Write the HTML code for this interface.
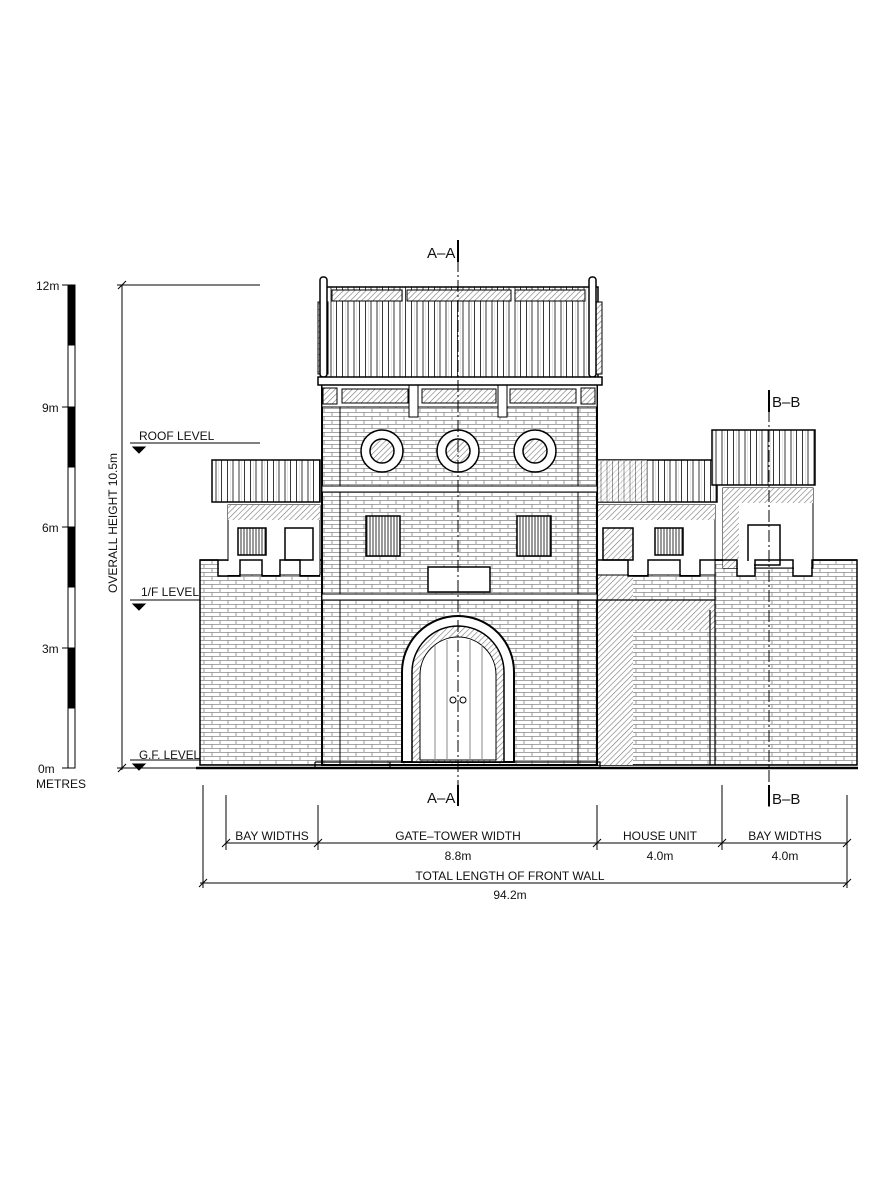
<!DOCTYPE html>
<html><head><style>body{margin:0;background:#fff}svg{display:block}text{font-family:"Liberation Sans",sans-serif;fill:#111}</style></head><body>
<svg width="896" height="1200" viewBox="0 0 896 1200" xmlns="http://www.w3.org/2000/svg">
<defs>
<pattern id="brick" width="16" height="8" patternUnits="userSpaceOnUse">
<rect width="16" height="8" fill="#fff"/>
<path d="M0 0.5H16M0 4.5H16M4 0V4M12 4V8" stroke="#888" stroke-width="0.8"/>
</pattern>
<pattern id="hatch" width="4" height="4" patternUnits="userSpaceOnUse" patternTransform="rotate(45)">
<rect width="4" height="4" fill="#fff"/><line x1="0" y1="0" x2="0" y2="4" stroke="#777" stroke-width="1.2"/>
</pattern>
<pattern id="tiles" width="11.5" height="400" patternUnits="userSpaceOnUse">
<rect width="11.5" height="400" fill="#fff"/>
<path d="M3 0V400M9 0V400" stroke="#222" stroke-width="0.9"/>
<path d="M0 0V400" stroke="#aaa" stroke-width="0.6"/>
</pattern>
<pattern id="vbars" width="3" height="10" patternUnits="userSpaceOnUse"><rect width="3" height="10" fill="#fff"/><line x1="1" y1="0" x2="1" y2="10" stroke="#333"/></pattern>
</defs>

<!-- scale bar -->
<g stroke="#000" stroke-width="1">
<rect x="68" y="285" width="7" height="483" fill="#fff"/>
<rect x="68" y="285" width="7" height="60" fill="#000"/>
<rect x="68" y="407" width="7" height="60" fill="#000"/>
<rect x="68" y="527" width="7" height="60" fill="#000"/>
<rect x="68" y="648" width="7" height="60" fill="#000"/>
<path d="M62 285H75M62 407H75M62 527H75M62 648H75M62 768H75"/>
</g>
<g font-size="12">
<text x="36" y="290">12m</text><text x="42" y="412">9m</text><text x="42" y="532">6m</text><text x="42" y="653">3m</text><text x="38" y="773">0m</text><text x="36" y="788">METRES</text>
</g>

<!-- walls -->
<rect x="200" y="560" width="122" height="205" fill="url(#brick)" stroke="#000" stroke-width="1.5"/>
<rect x="597" y="560" width="260" height="205" fill="url(#brick)" stroke="#000" stroke-width="1.5"/>
<rect x="597" y="560" width="36" height="205" fill="url(#hatch)"/>
<rect x="597" y="600" width="118" height="30" fill="url(#hatch)"/>
<path d="M715 560V765M597 600H715M710 610V765" stroke="#000" stroke-width="1.2"/>

<!-- left wing -->
<rect x="212" y="460" width="108" height="42" fill="url(#tiles)" stroke="#000" stroke-width="1.5"/>
<rect x="228" y="505" width="92" height="70" fill="#fff" stroke="#000"/>
<rect x="228" y="505" width="92" height="15" fill="url(#hatch)"/>
<rect x="238" y="528" width="28" height="27" fill="url(#vbars)" stroke="#000" stroke-width="1.5"/>
<rect x="285" y="528" width="28" height="32" fill="#fff" stroke="#000" stroke-width="1.5"/>
<path d="M200 560H218V576H240V560H262V576H280V560H300V576H320" fill="none" stroke="#000" stroke-width="1.5"/>
<rect x="219" y="561" width="20" height="14" fill="#fff"/><rect x="263" y="561" width="16" height="14" fill="#fff"/><rect x="301" y="561" width="18" height="14" fill="#fff"/>

<!-- right wing -->
<rect x="597" y="460" width="120" height="42" fill="url(#tiles)" stroke="#000" stroke-width="1.5"/>
<rect x="597" y="460" width="50" height="42" fill="url(#hatch)" opacity="0.5"/>
<rect x="597" y="505" width="118" height="70" fill="#fff" stroke="#000"/>
<rect x="597" y="505" width="118" height="15" fill="url(#hatch)"/>
<rect x="603" y="528" width="30" height="32" fill="url(#hatch)" stroke="#000" stroke-width="1.5"/>
<rect x="655" y="528" width="28" height="27" fill="url(#vbars)" stroke="#000" stroke-width="1.5"/>
<!-- far right tower -->
<rect x="712" y="430" width="103" height="55" fill="url(#tiles)" stroke="#000" stroke-width="1.5"/>
<rect x="723" y="488" width="90" height="80" fill="#fff" stroke="#000"/>
<rect x="723" y="488" width="90" height="15" fill="url(#hatch)"/>
<rect x="723" y="488" width="16" height="80" fill="url(#hatch)"/>
<rect x="748" y="525" width="32" height="40" fill="#fff" stroke="#000" stroke-width="1.5"/>
<path d="M597 560H628V576H648V560H680V576H700V560H737V576H755V560H793V576H812V560H857" fill="none" stroke="#000" stroke-width="1.5"/>
<rect x="629" y="561" width="18" height="14" fill="#fff"/><rect x="681" y="561" width="18" height="14" fill="#fff"/><rect x="738" y="561" width="16" height="14" fill="#fff"/><rect x="794" y="561" width="17" height="14" fill="#fff"/>

<!-- gate tower body -->
<rect x="322" y="385" width="275" height="380" fill="url(#brick)" stroke="#000" stroke-width="2"/>
<path d="M340 385V765M578 385V765" stroke="#000"/>
<rect x="322" y="385" width="275" height="22" fill="#fff" stroke="#000"/>
<rect x="342" y="389" width="66" height="14" fill="url(#hatch)" stroke="#000"/>
<rect x="422" y="389" width="74" height="14" fill="url(#hatch)" stroke="#000"/>
<rect x="510" y="389" width="66" height="14" fill="url(#hatch)" stroke="#000"/>
<rect x="409" y="385" width="9" height="32" fill="#fff" stroke="#000"/>
<rect x="498" y="385" width="9" height="32" fill="#fff" stroke="#000"/>
<rect x="323" y="388" width="14" height="16" fill="url(#hatch)" stroke="#000"/>
<rect x="581" y="388" width="14" height="16" fill="url(#hatch)" stroke="#000"/>
<g stroke="#000" stroke-width="1.5">
<circle cx="382" cy="451" r="21" fill="#fff"/><circle cx="382" cy="451" r="12" fill="url(#hatch)"/>
<circle cx="458" cy="451" r="21" fill="#fff"/><circle cx="458" cy="451" r="12" fill="url(#hatch)"/>
<circle cx="535" cy="451" r="21" fill="#fff"/><circle cx="535" cy="451" r="12" fill="url(#hatch)"/>
</g>
<rect x="322" y="486" width="275" height="6" fill="#fff" stroke="#000"/>
<rect x="322" y="594" width="275" height="6" fill="#fff" stroke="#000"/>
<rect x="366" y="516" width="34" height="40" fill="url(#vbars)" stroke="#000" stroke-width="1.5"/>
<rect x="517" y="516" width="34" height="40" fill="url(#vbars)" stroke="#000" stroke-width="1.5"/>
<rect x="428" y="567" width="62" height="25" fill="#fff" stroke="#000" stroke-width="1.5"/>
<!-- arch -->
<path d="M402 762V672A56 56 0 0 1 514 672V762Z" fill="#fff" stroke="#000" stroke-width="2"/>
<path d="M412 762V672A46 46 0 0 1 504 672V762Z" fill="url(#hatch)" stroke="#000" stroke-width="1.5"/>
<path d="M420 760V675A38 38 0 0 1 496 675V760Z" fill="#fff" stroke="#000"/>
<path d="M435 645V760M447 640V760M470 640V760M482 645V760" stroke="#888"/>
<circle cx="453" cy="700" r="3" fill="none" stroke="#000"/><circle cx="463" cy="700" r="3" fill="none" stroke="#000"/>
<!-- roof -->
<rect x="322" y="287" width="276" height="91" fill="url(#tiles)" stroke="#000" stroke-width="1.5"/>
<rect x="332" y="290" width="70" height="11" fill="url(#hatch)" stroke="#000"/>
<rect x="407" y="290" width="104" height="11" fill="url(#hatch)" stroke="#000"/>
<rect x="515" y="290" width="70" height="11" fill="url(#hatch)" stroke="#000"/>
<rect x="318" y="302" width="10" height="72" fill="url(#hatch)" stroke="#000"/>
<rect x="592" y="302" width="10" height="72" fill="url(#hatch)" stroke="#000"/>
<rect x="320" y="277" width="7" height="100" rx="3" fill="#fff" stroke="#000" stroke-width="1.5"/>
<rect x="589" y="277" width="7" height="100" rx="3" fill="#fff" stroke="#000" stroke-width="1.5"/>
<rect x="318" y="377" width="284" height="8" fill="#fff" stroke="#000" stroke-width="1.5"/>

<!-- ground -->
<path d="M196 768H858" stroke="#000" stroke-width="2.5"/>
<path d="M315 762H600V768M315 762V768M390 762V768" stroke="#000" fill="none" stroke-width="1.2"/>

<!-- overall height & levels (drawn on top) -->
<g stroke="#000" stroke-width="1">
<path d="M122 285V770M117 285H260M117 768H200M118 289L126 281M118 772L126 764"/>
<path d="M130 443H260M130 600H200M130 760H200"/>
<path d="M133 447l6 6 6-6zM133 604l6 6 6-6zM133 764l6 6 6-6z" fill="#000"/>
</g>
<text transform="translate(117,593) rotate(-90)" font-size="12">OVERALL HEIGHT 10.5m</text>
<text x="139" y="440" font-size="12">ROOF LEVEL</text>
<text x="141" y="596" font-size="12" textLength="58" lengthAdjust="spacingAndGlyphs">1/F LEVEL</text>
<text x="139" y="759" font-size="12" textLength="61" lengthAdjust="spacingAndGlyphs">G.F. LEVEL</text>

<!-- section lines -->
<path d="M458 240V800" stroke="#000" stroke-dasharray="12 3 2 3"/>
<path d="M769 390V810" stroke="#000" stroke-dasharray="12 3 2 3"/>
<path d="M458 240V262M458 785V806M769 390V412M769 785V806" stroke="#000" stroke-width="2"/>
<text x="427" y="258" font-size="15">A–A</text>
<text x="427" y="803" font-size="15">A–A</text>
<text x="772" y="407" font-size="15">B–B</text>
<text x="772" y="804" font-size="15">B–B</text>

<!-- dimensions -->
<g stroke="#000" stroke-width="1">
<path d="M203 785V888M226 795V850M318 805V850M597 805V850M722 785V850M847 795V888"/>
<path d="M226 843H847M200 883H847"/>
<path d="M222 847l8-8M314 847l8-8M593 847l8-8M718 847l8-8M843 847l8-8M199 887l8-8M843 887l8-8"/>
</g>
<g font-size="12" text-anchor="middle">
<text x="272" y="840">BAY WIDTHS</text>
<text x="458" y="840">GATE–TOWER WIDTH</text><text x="458" y="860">8.8m</text>
<text x="660" y="840">HOUSE UNIT</text><text x="660" y="860">4.0m</text>
<text x="785" y="840">BAY WIDTHS</text><text x="785" y="860">4.0m</text>
<text x="510" y="880">TOTAL LENGTH OF FRONT WALL</text><text x="510" y="899">94.2m</text>
</g>
</svg>
</body></html>
